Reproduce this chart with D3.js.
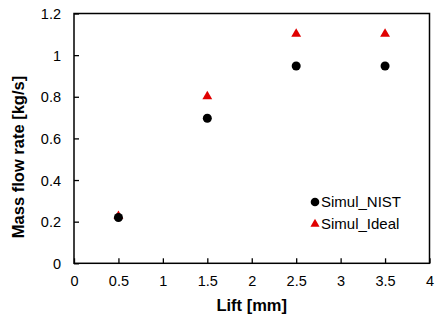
<!DOCTYPE html>
<html><head><meta charset="utf-8">
<script src="https://cdn.jsdelivr.net/npm/d3@7/dist/d3.min.js"></script>
<style>body{margin:0;background:#fff}svg{display:block}text{font-family:"Liberation Sans",Arial,sans-serif}</style>
</head><body>
<svg id="c" width="448" height="319"></svg>
<script>
const lift = [0.5, 1.5, 2.5, 3.5];
const simulNIST = [0.22, 0.697, 0.948, 0.948];
const simulIdeal = [0.226, 0.802, 1.102, 1.102];
const xTicks = [0, 0.5, 1, 1.5, 2, 2.5, 3, 3.5, 4];
const yTicks = [0, 0.2, 0.4, 0.6, 0.8, 1, 1.2];

const svg = d3.select("#c");
const L = 74, R = 429.5, T = 13.5, B = 263.3;
const x = d3.scaleLinear().domain([0, 4]).range([L, R]);
const y = d3.scaleLinear().domain([0, 1.2]).range([B, T]);
const fmt = d3.format("");

svg.append("rect").attr("x", L).attr("y", T).attr("width", R - L).attr("height", B - T)
  .attr("fill", "none").attr("stroke", "#000").attr("stroke-width", 1.5);

const xa = svg.append("g").attr("transform", `translate(0,${B})`)
  .call(d3.axisBottom(x).tickValues(xTicks).tickSizeInner(-5).tickSizeOuter(0).tickFormat(fmt));
const ya = svg.append("g").attr("transform", `translate(${L},0)`)
  .call(d3.axisLeft(y).tickValues(yTicks).tickSizeInner(-5).tickSizeOuter(0).tickFormat(fmt));
[xa, ya].forEach(a => {
  a.select(".domain").remove();
  a.selectAll(".tick line").attr("stroke", "#000").attr("stroke-width", 1.3);
  a.selectAll(".tick text").attr("font-size", 14.5).attr("fill", "#000")
    .attr("font-family", '"Liberation Sans",Arial,sans-serif');
});
xa.selectAll(".tick text").attr("y", 23.2).attr("dy", null);
ya.selectAll(".tick text").attr("x", -13).attr("dy", "0.35em");

const tri = d3.symbol().type(d3.symbolTriangle).size(42);
svg.append("g").selectAll("path").data(lift).join("path")
  .attr("d", tri).attr("transform", (d, i) => `translate(${x(d)},${y(simulIdeal[i])})`)
  .attr("fill", "#e00000");
svg.append("g").selectAll("circle").data(lift).join("circle")
  .attr("cx", d => x(d)).attr("cy", (d, i) => y(simulNIST[i])).attr("r", 4.5).attr("fill", "#000");

// legend
svg.append("circle").attr("cx", 315).attr("cy", 202).attr("r", 4.3).attr("fill", "#000");
svg.append("path").attr("d", d3.symbol().type(d3.symbolTriangle).size(36)).attr("transform", "translate(315,224)").attr("fill", "#e00000");
svg.append("text").attr("x", 321).attr("y", 207.3).attr("font-size", 15).text("Simul_NIST");
svg.append("text").attr("x", 321).attr("y", 229.3).attr("font-size", 15).text("Simul_Ideal");

svg.append("text").attr("x", (L + R) / 2).attr("y", 311).attr("text-anchor", "middle")
  .attr("font-size", 16.5).attr("font-weight", "bold").text("Lift [mm]");
svg.append("text").attr("transform", `translate(24,157) rotate(-90)`).attr("text-anchor", "middle")
  .attr("font-size", 16.5).attr("font-weight", "bold").text("Mass flow rate [kg/s]");
</script>
</body></html>
